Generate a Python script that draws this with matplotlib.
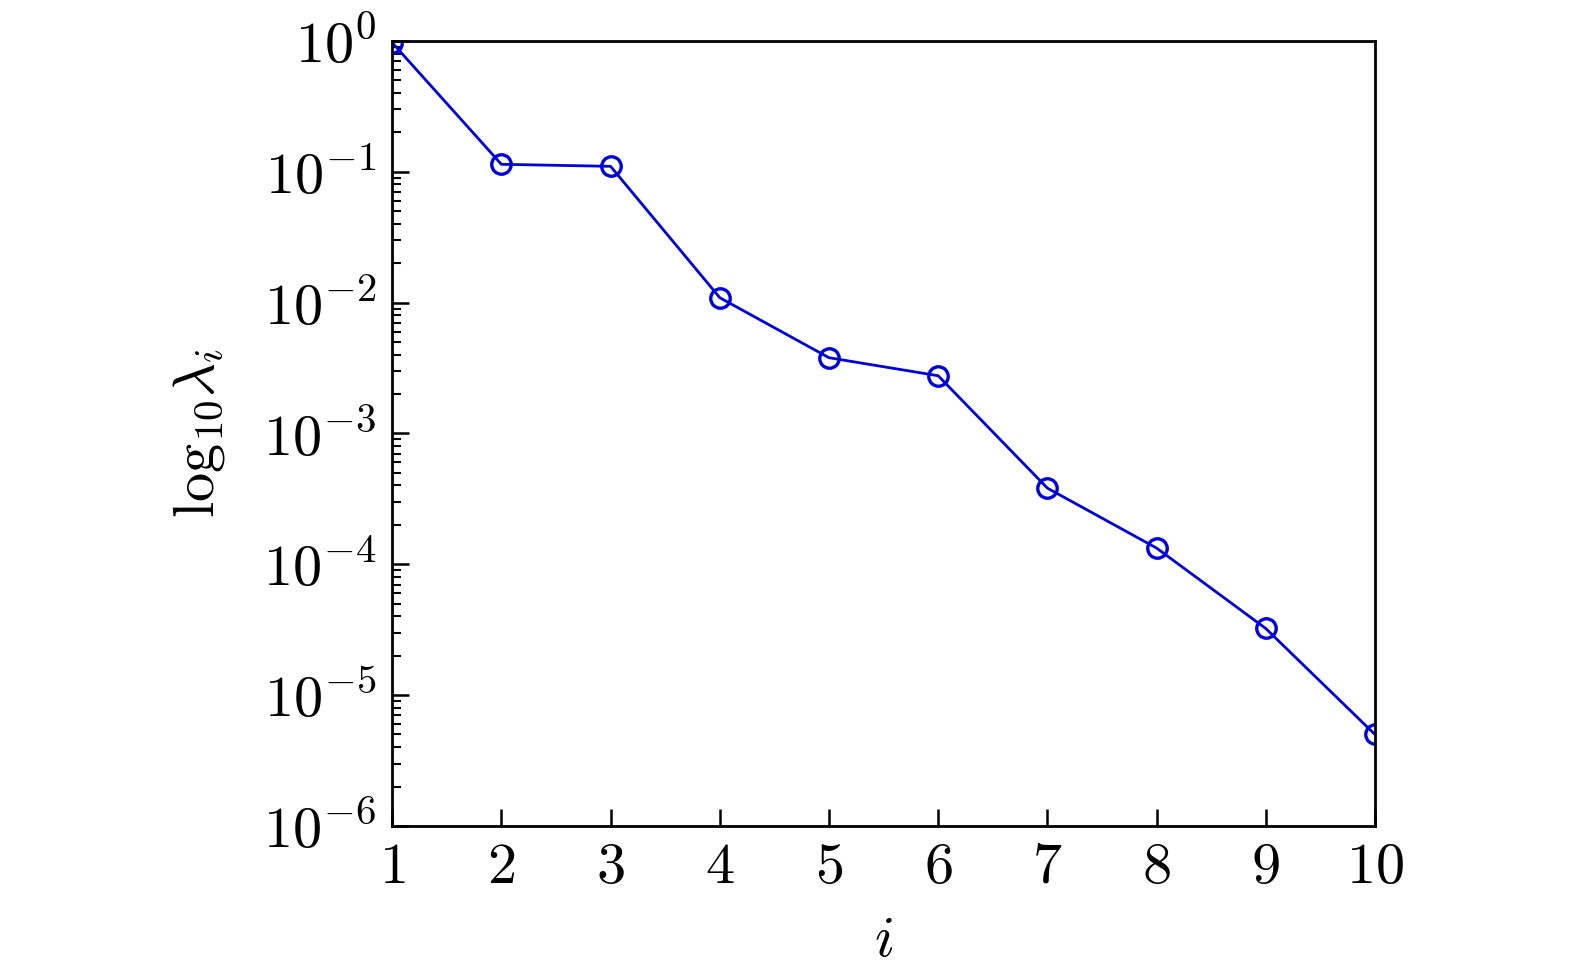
import numpy as np
import matplotlib
matplotlib.use("Agg")
import matplotlib.pyplot as plt

plt.rcParams['mathtext.fontset'] = 'cm'
plt.rcParams['font.family'] = 'serif'
plt.rcParams['font.serif'] = ['cmr10', 'DejaVu Serif']
plt.rcParams['axes.formatter.use_mathtext'] = True

# valeurs propres
i = [1, 2, 3, 4, 5, 6, 7, 8, 9, 10]
lam = [0.97, 0.114, 0.110, 0.0109, 0.00379, 0.00276, 3.82e-4, 1.33e-4, 3.23e-5, 5.0e-6]

fig = plt.figure(figsize=(15.75, 9.74), dpi=100)
ax = fig.add_axes([0.249, 0.152, 0.624, 0.806])

ax.semilogy(i, lam, color='#0000dd', lw=2.0, marker='o', ms=14,
            mfc='none', mew=2.4)

ax.set_xlim(1, 10)
ax.set_ylim(1e-6, 1)
ax.set_xticks(i)
ax.set_xticklabels([f"${v}$" for v in i])

for s in ax.spines.values():
    s.set_linewidth(2)

fs = 42
ax.tick_params(which='both', direction='in', top=False, right=False, labelsize=fs)
ax.tick_params(which='major', length=12, width=1.8)
ax.tick_params(which='minor', length=6.5, width=1.5)
ax.tick_params(axis='x', which='minor', bottom=False)
ax.tick_params(axis='x', pad=12)
ax.tick_params(axis='y', pad=11)

ax.set_xlabel(r"$i$", fontsize=fs, labelpad=16)
ax.set_ylabel(r"$\log_{10}\!\lambda_i$", fontsize=fs, labelpad=26)

fig.savefig("out.png", dpi=100)
